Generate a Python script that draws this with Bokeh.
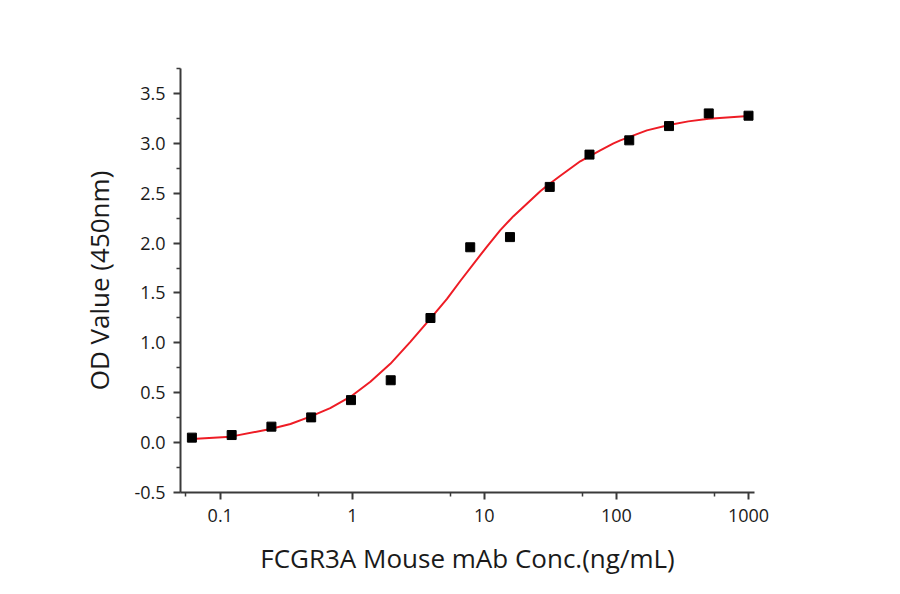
from bokeh.plotting import figure
from bokeh.models import Range1d, FixedTicker, CustomJSTickFormatter, PrintfTickFormatter
from bokeh.embed import file_html
from bokeh.resources import INLINE

# ---- data ----
conc = [0.061, 0.122, 0.244, 0.488, 0.977, 1.953, 3.906, 7.8125, 15.625,
        31.25, 62.5, 125, 250, 500, 1000]
od = [0.05, 0.076, 0.16, 0.253, 0.426, 0.625, 1.249, 1.958, 2.06,
      2.563, 2.887, 3.03, 3.173, 3.30, 3.277]

# fitted curve as traced on the picture
curve_x = [0.061, 0.12, 0.24, 0.34, 0.48, 0.68, 0.97, 1.37, 1.63, 1.94, 2.75,
           3.9, 5.21, 6.57, 9.31, 10.46, 13.2, 16.6, 26.5, 29.8, 37.6, 53.2,
           75.4, 95, 107, 170, 250, 350, 500, 1000]
curve_y = [0.036, 0.06, 0.136, 0.186, 0.26, 0.345, 0.46, 0.61, 0.70, 0.79, 1.01,
           1.242, 1.44, 1.62, 1.88, 1.965, 2.13, 2.27, 2.52, 2.575, 2.675, 2.82,
           2.93, 3.0, 3.03, 3.13, 3.183, 3.22, 3.247, 3.273]

x_ticks = [0.1, 1, 10, 100, 1000]
x_minor = [0.055, 0.55, 5.5, 55, 550]
y_ticks = [-0.5, 0.0, 0.5, 1.0, 1.5, 2.0, 2.5, 3.0, 3.5]
y_minor = [-0.25, 0.25, 0.75, 1.25, 1.75, 2.25, 2.75, 3.25, 3.75]

FONT = "Open Sans"
AX = "#3a3a3a"
TXT = "#1a1a1a"

p = figure(width=884, height=578, x_axis_type="log",
           x_range=Range1d(0.05, 1110), y_range=Range1d(-0.5, 3.75),
           output_backend="svg", toolbar_location=None,
           min_border_left=180, min_border_right=130,
           min_border_top=68, min_border_bottom=84)
p.outline_line_color = None
p.xgrid.visible = False
p.ygrid.visible = False
p.background_fill_color = "white"
p.border_fill_color = "white"

p.line(curve_x, curve_y, line_color="#ee1c25", line_width=2)
p.scatter(conc, od, marker="square", size=9, fill_color="black", line_color="black")

xa = p.xaxis[0]
xa.ticker = FixedTicker(ticks=x_ticks, minor_ticks=x_minor)
xa.formatter = CustomJSTickFormatter(code="return String(tick);")
xa.axis_label = "FCGR3A Mouse mAb Conc.(ng/mL)"

ya = p.yaxis[0]
ya.ticker = FixedTicker(ticks=y_ticks, minor_ticks=y_minor)
ya.formatter = PrintfTickFormatter(format="%.1f")
ya.axis_label = "OD Value (450nm)"

for ax in (xa, ya):
    ax.axis_line_color = AX
    ax.axis_line_width = 2
    ax.major_tick_line_color = AX
    ax.major_tick_line_width = 2
    ax.minor_tick_line_color = AX
    ax.minor_tick_line_width = 1.5
    ax.major_tick_in = 0
    ax.major_tick_out = 7
    ax.minor_tick_in = 0
    ax.minor_tick_out = 4
    ax.major_label_text_font = FONT
    ax.major_label_text_font_size = "18px"
    ax.major_label_text_color = TXT
    ax.axis_label_text_font = FONT
    ax.axis_label_text_font_size = "26px"
    ax.axis_label_text_font_style = "normal"
    ax.axis_label_text_color = TXT

xa.major_label_standoff = 9
xa.axis_label_standoff = 15
ya.major_label_standoff = 8
ya.axis_label_standoff = 14

open("out.html", "w").write(file_html(p, INLINE))
